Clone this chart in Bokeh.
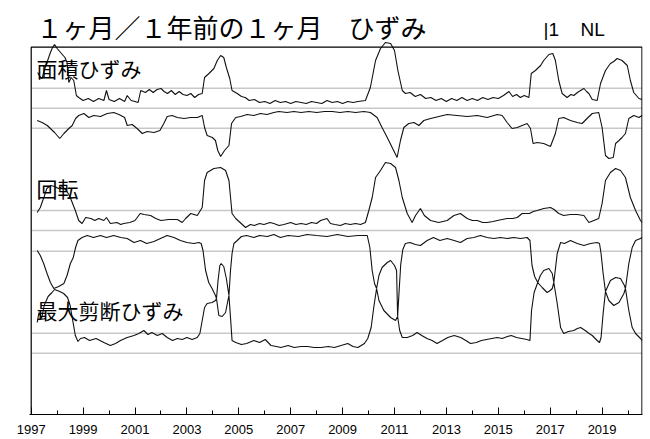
from bokeh.plotting import figure
from bokeh.models import Range1d, FixedTicker
from bokeh.core.properties import value
from bokeh.embed import file_html
from bokeh.resources import INLINE

# ---------------- data (vertical unit = chart units, 0 at x axis) ----------------
major_years = [1997, 1999, 2001, 2003, 2005, 2007, 2009, 2011, 2013, 2015, 2017, 2019]
minor_years = [1998, 2000, 2002, 2004, 2006, 2008, 2010, 2012, 2014, 2016, 2018, 2020]
ref_levels = [326.3, 306.3, 286.3, 204.0, 184.0, 163.3, 81.3, 61.3]

title_text = "１ヶ月／１年前の１ヶ月　ひずみ"
tag_left = "|1"
tag_right = "NL"
panel_names = ["面積ひずみ", "回転", "最大剪断ひずみ"]

areal_upper = [(1997.25,342),(1997.33,338),(1997.42,336),(1997.5,344),(1997.58,350),(1997.66,356),(1997.74,362),
    (1997.82,367),(1997.9,370),(1998.0,366),(1998.1,363),(1998.2,360),(1998.3,357),(1998.38,352),(1998.45,332),
    (1998.54,337),(1998.64,334),(1998.74,319),(1998.83,317),(1999.0,314),(1999.2,316),(1999.4,313),(1999.6,316),
    (1999.8,314),(1999.9,324),(2000.0,315),(2000.2,313),(2000.4,316),(2000.6,313),(2000.7,319),(2000.85,314),
    (2001.0,313),(2001.12,312),(2001.22,324),(2001.4,322),(2001.55,325),(2001.7,322),(2001.85,325),(2002.0,326),
    (2002.12,323),(2002.25,321),(2002.4,324),(2002.55,320),(2002.7,323),(2002.85,320),(2003.0,319),(2003.15,321),
    (2003.3,317),(2003.45,320),(2003.59,321),(2003.68,337),(2003.85,341),(2004.04,346),(2004.17,354),(2004.3,359),
    (2004.42,357),(2004.52,347),(2004.65,336),(2004.74,324),(2004.94,321),(2005.1,318),(2005.25,317),(2005.4,314),
    (2005.6,315),(2005.8,312),(2006.0,313),(2006.2,311),(2006.4,314),(2006.6,312),(2006.8,313),(2007.0,311),
    (2007.2,313),(2007.4,312),(2007.6,311),(2007.8,313),(2008.0,312),(2008.2,311),(2008.4,314),(2008.6,312),
    (2008.8,313),(2009.0,311),(2009.2,313),(2009.4,312),(2009.6,313),(2009.88,314),(2010.07,327),(2010.27,354),
    (2010.46,366),(2010.65,372),(2010.85,371),(2011.0,364),(2011.13,344),(2011.3,324),(2011.42,321),(2011.6,322),
    (2011.8,318),(2012.0,320),(2012.2,316),(2012.4,317),(2012.6,314),(2012.8,316),(2013.0,313),(2013.2,316),
    (2013.4,314),(2013.6,317),(2013.8,314),(2014.0,316),(2014.2,314),(2014.4,317),(2014.6,315),(2014.8,317),
    (2015.0,316),(2015.2,319),(2015.41,323),(2015.55,318),(2015.7,320),(2015.85,317),(2016.0,319),(2016.18,317),
    (2016.27,341),(2016.43,344),(2016.63,349),(2016.75,354),(2016.95,360),(2017.1,361),(2017.2,354),(2017.33,334),
    (2017.46,321),(2017.65,317),(2017.8,320),(2017.91,319),(2018.05,322),(2018.17,324),(2018.3,326),(2018.4,323),
    (2018.49,321),(2018.62,315),(2018.81,314),(2018.94,331),(2019.13,344),(2019.32,351),(2019.45,353),(2019.58,356),
    (2019.77,354),(2019.97,349),(2020.09,334),(2020.22,322),(2020.42,316),(2020.54,315)]

areal_lower = [(1997.23,294),(1997.42,292),(1997.62,289),(1997.74,286),(1997.9,282),(1998.1,276),(1998.26,281),
    (1998.45,286),(1998.58,289),(1998.71,296),(1998.83,299),(1999.03,301),(1999.22,297),(1999.41,299),(1999.67,298),
    (1999.93,301),(2000.18,302),(2000.38,300),(2000.6,297),(2000.7,289),(2000.89,290),(2001.08,286),(2001.28,281),
    (2001.47,283),(2001.73,282),(2001.96,284),(2002.11,291),(2002.24,298),(2002.43,299),(2002.63,297),(2002.89,296),
    (2003.14,297),(2003.4,297),(2003.59,299),(2003.68,287),(2003.78,279),(2003.98,277),(2004.1,274),(2004.19,264),
    (2004.3,258),(2004.45,264),(2004.62,269),(2004.72,291),(2004.88,297),(2005.07,298),(2005.32,300),(2005.58,299),
    (2005.83,301),(2006.09,300),(2006.35,302),(2006.54,303),(2006.86,302),(2007.12,303),(2007.4,302),(2007.7,303),
    (2008.0,302),(2008.3,303),(2008.6,303),(2008.9,302),(2009.2,303),(2009.5,302),(2009.82,303),(2010.07,302),
    (2010.33,297),(2010.52,287),(2010.72,277),(2010.91,267),(2011.1,257),(2011.23,274),(2011.36,287),(2011.55,291),
    (2011.75,292),(2011.94,289),(2012.13,294),(2012.39,296),(2012.71,298),(2013.03,300),(2013.41,299),(2013.8,298),
    (2014.19,299),(2014.57,297),(2014.96,300),(2015.15,299),(2015.34,292),(2015.53,286),(2015.73,287),(2015.92,289),
    (2016.11,291),(2016.24,286),(2016.34,271),(2016.5,272),(2016.75,271),(2017.01,268),(2017.2,281),(2017.33,296),
    (2017.52,297),(2017.78,294),(2018.04,292),(2018.23,291),(2018.42,296),(2018.62,301),(2018.87,302),(2019.0,287),
    (2019.13,259),(2019.26,256),(2019.43,257),(2019.52,271),(2019.65,274),(2019.77,277),(2019.9,281),(2020.03,296),
    (2020.22,299),(2020.42,297),(2020.54,299)]

rotation = [(1997.23,202),(1997.35,207),(1997.5,218),(1997.6,226),(1997.75,229),(1997.9,228),(1998.05,226),
    (1998.2,228),(1998.35,224),(1998.45,220),(1998.55,214),(1998.7,204),(1998.83,194),(1998.96,191),(1999.1,197),
    (1999.3,196),(1999.45,194),(1999.6,196),(1999.8,194),(1999.9,197),(2000.05,191),(2000.3,192),(2000.45,190),
    (2000.56,191),(2000.8,192),(2001.0,194),(2001.2,201),(2001.35,200),(2001.6,199),(2001.8,196),(2002.0,194),
    (2002.3,195),(2002.63,195),(2002.82,192),(2002.95,196),(2003.15,201),(2003.4,199),(2003.59,207),(2003.68,234),
    (2003.78,242),(2004.04,246),(2004.3,247),(2004.49,244),(2004.62,234),(2004.74,201),(2004.88,196),(2005.05,192),
    (2005.26,187),(2005.45,190),(2005.6,189),(2005.8,191),(2005.97,190),(2006.2,192),(2006.35,191),(2006.55,189),
    (2006.74,190),(2007.0,192),(2007.2,190),(2007.4,191),(2007.6,190),(2007.8,192),(2008.0,191),(2008.15,194),
    (2008.4,196),(2008.53,191),(2008.7,190),(2008.92,189),(2009.1,191),(2009.3,190),(2009.5,191),(2009.69,190),
    (2009.88,192),(2010.01,204),(2010.14,217),(2010.27,237),(2010.46,244),(2010.65,252),(2010.85,251),(2011.04,247),
    (2011.17,234),(2011.3,217),(2011.49,201),(2011.68,192),(2011.81,199),(2012.0,206),(2012.15,199),(2012.39,194),
    (2012.7,192),(2013.03,194),(2013.29,199),(2013.54,201),(2013.8,196),(2014.0,194),(2014.19,194),(2014.4,192),
    (2014.57,192),(2014.8,193),(2014.96,194),(2015.15,195),(2015.34,196),(2015.55,196),(2015.73,197),(2015.92,201),
    (2016.2,201),(2016.35,203),(2016.5,204),(2016.75,206),(2017.01,207),(2017.15,205),(2017.33,201),(2017.52,199),
    (2017.78,200),(2018.04,200),(2018.3,199),(2018.49,192),(2018.68,194),(2018.87,196),(2019.0,211),(2019.13,234),
    (2019.32,242),(2019.52,246),(2019.71,244),(2019.9,237),(2020.09,217),(2020.29,204),(2020.48,194),(2020.54,192)]

shear_upper = [(1997.23,164),(1997.35,159),(1997.48,151),(1997.61,141),(1997.74,132),(1997.87,126),(1998.06,128),
    (1998.26,131),(1998.38,139),(1998.51,151),(1998.62,157),(1998.71,167),(1998.8,174),(1998.96,177),(1999.16,179),
    (1999.4,177),(1999.67,179),(1999.9,177),(2000.18,179),(2000.45,177),(2000.7,176),(2000.96,172),(2001.21,174),
    (2001.45,171),(2001.73,173),(2001.98,176),(2002.24,179),(2002.5,177),(2002.75,174),(2003.0,172),(2003.27,171),
    (2003.46,172),(2003.55,171),(2003.62,164),(2003.72,144),(2003.84,132),(2003.97,126),(2004.1,119),(2004.14,116),
    (2004.2,134),(2004.27,149),(2004.32,151),(2004.42,148),(2004.52,136),(2004.62,119),(2004.68,144),(2004.74,161),
    (2004.81,171),(2004.94,174),(2005.1,178),(2005.3,179),(2005.58,177),(2005.8,179),(2006.1,178),(2006.35,180),
    (2006.6,177),(2006.9,179),(2007.3,178),(2007.63,180),(2008.0,179),(2008.4,178),(2008.8,180),(2009.2,178),
    (2009.6,179),(2009.95,179),(2010.05,167),(2010.14,144),(2010.23,131),(2010.31,126),(2010.4,139),(2010.52,147),
    (2010.72,152),(2010.85,154),(2011.0,149),(2011.08,144),(2011.12,98),(2011.17,120),(2011.24,150),(2011.32,165),
    (2011.42,171),(2011.6,172),(2011.8,170),(2012.0,169),(2012.26,174),(2012.5,177),(2012.75,174),(2013.03,176),
    (2013.3,174),(2013.54,172),(2013.8,176),(2014.06,177),(2014.31,179),(2014.57,177),(2014.83,176),(2015.08,177),
    (2015.34,176),(2015.6,177),(2015.85,176),(2016.11,177),(2016.22,174),(2016.3,149),(2016.4,138),(2016.52,132),
    (2016.62,139),(2016.75,144),(2016.95,146),(2017.08,141),(2017.14,132),(2017.27,161),(2017.4,172),(2017.55,171),
    (2017.78,174),(2018.04,171),(2018.3,169),(2018.55,171),(2018.81,172),(2018.9,171),(2018.96,161),(2019.04,141),
    (2019.13,123),(2019.32,134),(2019.52,137),(2019.71,136),(2019.86,129),(2019.9,126),(2020.03,151),(2020.16,167),
    (2020.29,174),(2020.48,176),(2020.54,177)]

shear_lower = [(1997.23,92),(1997.3,102),(1997.4,96),(1997.5,109),(1997.65,118),(1997.8,122),(1997.9,125),
    (1998.1,123),(1998.25,121),(1998.4,117),(1998.5,109),(1998.6,94),(1998.7,79),(1998.8,73),(1998.9,76),
    (1999.05,77),(1999.25,74),(1999.5,76),(1999.8,72),(2000.05,69),(2000.25,71),(2000.44,74),(2000.7,77),
    (2000.96,79),(2001.15,81),(2001.34,84),(2001.5,80),(2001.65,82),(2001.86,79),(2002.05,81),(2002.24,77),
    (2002.45,74),(2002.63,76),(2002.82,75),(2003.0,77),(2003.2,75),(2003.4,77),(2003.5,81),(2003.59,94),
    (2003.68,107),(2003.78,111),(2003.97,112),(2004.1,114),(2004.14,116),(2004.23,99),(2004.36,98),(2004.49,102),
    (2004.58,114),(2004.62,119),(2004.68,97),(2004.74,74),(2004.88,72),(2005.1,70),(2005.3,71),(2005.58,74),
    (2005.8,72),(2006.02,75),(2006.24,69),(2006.45,68),(2006.62,67),(2006.9,69),(2007.14,67),(2007.4,68),
    (2007.65,68),(2007.9,67),(2008.17,67),(2008.45,68),(2008.68,67),(2008.94,69),(2009.2,71),(2009.4,68),
    (2009.59,67),(2009.84,71),(2009.97,76),(2010.1,87),(2010.2,107),(2010.31,126),(2010.4,114),(2010.59,104),
    (2010.85,97),(2011.04,94),(2011.12,98),(2011.2,84),(2011.3,77),(2011.49,77),(2011.7,79),(2011.87,82),
    (2012.05,79),(2012.25,76),(2012.45,74),(2012.64,71),(2012.85,74),(2013.05,77),(2013.3,79),(2013.55,77),
    (2013.75,74),(2013.93,71),(2014.15,72),(2014.35,74),(2014.55,75),(2014.75,76),(2014.96,77),(2015.15,76),
    (2015.35,78),(2015.5,79),(2015.7,77),(2015.9,76),(2016.1,75),(2016.22,74),(2016.28,104),(2016.38,122),
    (2016.52,132),(2016.69,127),(2016.88,122),(2017.0,124),(2017.08,126),(2017.14,132),(2017.27,111),(2017.4,87),
    (2017.52,81),(2017.7,83),(2017.91,84),(2018.05,86),(2018.17,87),(2018.35,84),(2018.5,81),(2018.62,79),
    (2018.81,74),(2018.9,72),(2018.96,77),(2019.04,101),(2019.13,123),(2019.26,114),(2019.45,109),(2019.65,112),
    (2019.84,121),(2019.9,126),(2020.03,104),(2020.16,87),(2020.29,81),(2020.48,76),(2020.54,74)]

box_left, box_right, box_top = 1997.0, 2020.537, 367.3

# ---------------- figure ----------------
FL, FW, FH = 29, 613, 414          # frame left / width / height in px
X0, X1 = 1996.934, 2020.557
p = figure(width=650, height=439, output_backend="svg", toolbar_location=None,
           x_range=Range1d(X0, X1), y_range=Range1d(0, FH),
           y_axis_location=None, min_border_left=FL, min_border_right=650 - FL - FW,
           min_border_top=0, min_border_bottom=439 - FH)
p.outline_line_color = None
p.grid.visible = False
p.background_fill_color = "white"
p.border_fill_color = "white"

def xpos(px):
    # screen x offset (from frame left) -> data x
    return X0 + px * (X1 - X0) / FW

ax = p.xaxis[0]
ax.ticker = FixedTicker(ticks=major_years, minor_ticks=minor_years)
ax.major_tick_in = 7
ax.major_tick_out = 0
ax.minor_tick_in = 4
ax.minor_tick_out = 0
ax.axis_line_color = "black"
ax.major_tick_line_color = "black"
ax.minor_tick_line_color = "black"
ax.major_label_text_font = "Liberation Sans"
ax.major_label_text_font_size = "13px"
ax.major_label_text_color = "black"
ax.major_label_standoff = 10

# reference levels
p.segment(x0=[box_left] * len(ref_levels), x1=[box_right] * len(ref_levels),
          y0=ref_levels, y1=ref_levels, line_color="#c8c8c8", line_width=1.6)

# curves
for series in (areal_upper, areal_lower, rotation, shear_upper, shear_lower):
    xs = [t for t, _ in series]
    ys = [v for _, v in series]
    p.line(xs, ys, line_color="#111111", line_width=1.1)

# plot box (top, left, right)
p.line([box_left, box_left, box_right, box_right], [0, box_top, box_top, 0],
       line_color="black", line_width=1.2)

# texts
jp = "Noto Sans CJK JP"
p.text(x=[xpos(7)], y=[FH - 26], text=[title_text], text_font=value(jp),
       text_font_size=value("26px"), text_baseline="middle", text_color="black")
p.text(x=[xpos(514), xpos(551)], y=[FH - 29, FH - 29], text=[tag_left, tag_right],
       text_font=value("Liberation Sans"), text_font_size=value("19px"),
       text_baseline="middle", text_color="black")
p.text(x=[xpos(7)] * 3, y=[FH - 67, FH - 187, FH - 309], text=panel_names,
       text_font=value(jp), text_font_size=value("21px"), text_baseline="middle", text_color="black")

open("out.html", "w").write(file_html(p, INLINE))
